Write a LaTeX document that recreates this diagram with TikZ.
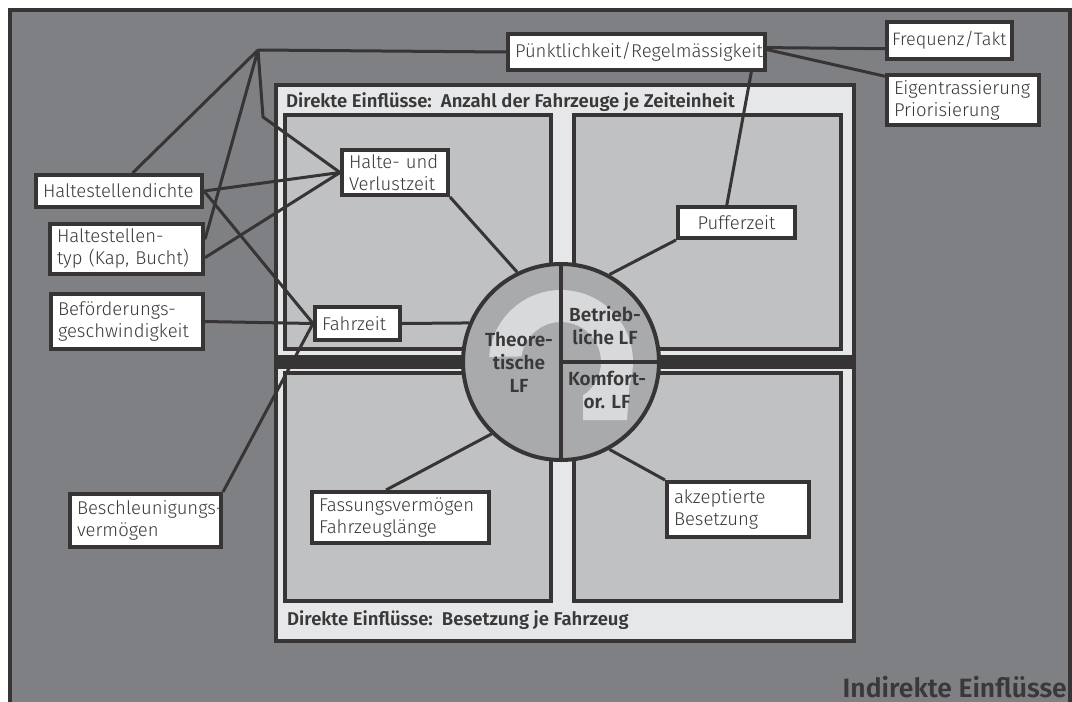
\documentclass[tikz,border=0pt]{standalone}
\usepackage{fontspec}
\setmainfont{Fira Sans}[UprightFont=* Light, BoldFont=* SemiBold]
\usetikzlibrary{calc}
\hyphenpenalty=10000
\exhyphenpenalty=10000

\definecolor{outerg}{HTML}{7F8083}
\definecolor{panelc}{HTML}{E6E7E8}
\definecolor{quadc}{HTML}{C0C1C3}
\definecolor{linec}{HTML}{373435}
\definecolor{circc}{HTML}{A9AAAC}
\definecolor{swirlc}{HTML}{D8D9DA}
\definecolor{textc}{HTML}{3A393A}

\newcommand\bxfont{\fontsize{18.5}{22}\selectfont}
\newcommand\hdfont{\bfseries\fontsize{18.5}{21}\selectfont}
\newcommand\lffont{\bfseries\fontsize{19}{23}\selectfont}
\newcommand\indfont{\bfseries\fontsize{26.5}{30}\selectfont}

\pgfdeclarelayer{bg}
\pgfdeclarelayer{lines}
\pgfsetlayers{bg,lines,main}

\begin{document}
\begin{tikzpicture}[x=1pt,y=-1pt,
  frame/.style={draw=linec, line width=4pt},
  quad/.style={frame, fill=quadc},
  box/.style={draw=linec, line width=4pt, fill=white, inner xsep=7pt, inner ysep=2pt,
    align=left, font=\bxfont, text=textc},
  conn/.style={draw=linec, line width=3pt},
  heading/.style={font=\hdfont, text=textc, inner sep=0pt, anchor=base west},
  lf/.style={font=\lffont, text=textc, align=center, inner sep=0pt}]

\useasboundingbox (0,0) rectangle (1072,702);

% frames, panels and the dividing bar
\begin{pgfonlayer}{bg}
  \fill[white] (0,0) rectangle (1072,702);
  \draw[frame, fill=outerg] (10,9.5) rectangle (1070,720);
  \draw[frame, fill=panelc] (276,85) rectangle (854,641);
  \draw[quad] (285,115) rectangle (551,349);
  \draw[quad] (574,115) rectangle (841,349);
  \draw[quad] (285,373) rectangle (551,601);
  \draw[quad] (574,373) rectangle (841,601);
  \draw[linec, line width=14pt] (276,362) -- (854,362);
\end{pgfonlayer}

% headings
\node[heading] (top) at (286,107) {Direkte Einflüsse:\ \ Anzahl der Fahrzeuge je Zeiteinheit};
\node[heading] (bottom) at (287,625) {Direkte Einflüsse:\ \ Besetzung je Fahrzeug};
\node[font=\indfont, text=textc, inner sep=0pt, anchor=base east] (ind) at (1067,697) {Indirekte Einflüsse};

% central disc with its three sectors
\node[circle, draw=linec, line width=4pt, fill=circc, minimum size=196pt, inner sep=0pt] (c) at (561,362) {};
\begin{scope}[shift={(561,362)}, yscale=-1]
  \fill[swirlc] (176:72) arc[start angle=176, end angle=-18, radius=72]
    -- (66,-58) -- (22,-58) -- (-56.6:40)
    arc[start angle=-56.6, end angle=172, radius=40] -- cycle;
\end{scope}
\draw[linec, line width=4pt] (c.north) -- (c.south);
\draw[linec, line width=4pt] (c.center) -- (c.east);
\node[lf] (theo) at (519,362) {Theore-\\tische\\LF};
\node[lf] (betr) at (605,326) {Betrieb-\\liche LF};
\node[lf] (komf) at (607,390) {Komfort-\\or. LF};

% factor boxes
\node[box, text width=243pt, minimum height=36pt] (pk) at (636.5,52) {Pünktlichkeit/Regelmässigkeit};
\node[box, inner xsep=5pt, text width=115pt, minimum height=37pt, font=\fontsize{18}{22}\selectfont] (ft) at (949.5,40.5) {Frequenz/Takt};
\node[box, text width=138pt, minimum height=50pt] (ep) at (963,100) {Eigentrassierung\\Priorisierung};
\node[box, text width=92pt, minimum height=45pt] (hv) at (395,172.5) {Halte- und\\Verlustzeit};
\node[box, text width=152pt, minimum height=32pt] (hd) at (119,191) {Haltestellendichte};
\node[box, text width=139pt, minimum height=50pt] (ht) at (126.5,249) {Haltestellen-\\typ (Kap, Bucht)};
\node[box, text width=138pt, minimum height=55pt] (bg) at (127,321.5) {Beförderungs-\\geschwindigkeit};
\node[box, text width=71pt, minimum height=33pt] (fz) at (357.5,323.5) {Fahrzeit};
\node[box, text width=103pt, minimum height=31pt, align=center] (pz) at (736.5,222.5) {Pufferzeit};
\node[box, text width=137pt, minimum height=53pt] (bs) at (145.5,520.5) {Beschleunigungs-\\vermögen};
\node[box, text width=163pt, minimum height=51pt] (fv) at (400.5,517.5) {Fassungsvermögen\\Fahrzeuglänge};
\node[box, text width=128pt, minimum height=55pt] (ab) at (738,509.5) {akzeptierte\\Besetzung};

% connectors
\coordinate (hub) at (258,50);
\coordinate (bend) at (263,117);
\begin{pgfonlayer}{lines}
  \draw[conn] (hub) -- (pk.west);
  \draw[conn] (hub) -- ($(hd.north west)!0.58!(hd.north east)$);
  \draw[conn] (hub) -- ($(ht.north east)!0.32!(ht.south east)$);
  \draw[conn] (hub) -- (bend) -- (hv.west);
  \draw[conn] (hd.east) -- (hv.west);
  \draw[conn] ($(ht.north east)!0.66!(ht.south east)$) -- (hv.west);
  \draw[conn] (hd.east) -- (fz.west);
  \draw[conn] (bg.east) -- (fz.west);
  \draw[conn] (bs.north east) -- (fz.west);
  \draw[conn] (hv.south east) -- (c.116);
  \draw[conn] (fz.east) -- (c.157);
  \draw[conn] (pz.south west) -- (c.61);
  \draw[conn] ($(fv.north west)!0.42!(fv.north east)$) -- (c.226);
  \draw[conn] (ab.north west) -- (c.299);
  \draw[conn] ($(pk.south west)!0.94!(pk.south east)$) -- ($(pz.north west)!0.42!(pz.north east)$);
  \draw[conn] ($(pk.north east)!0.39!(pk.south east)$) -- ($(ft.north west)!0.7!(ft.south west)$);
  \draw[conn] ($(pk.north east)!0.44!(pk.south east)$) -- ($(ep.north west)!0.06!(ep.south west)$);
\end{pgfonlayer}
\end{tikzpicture}
\end{document}
